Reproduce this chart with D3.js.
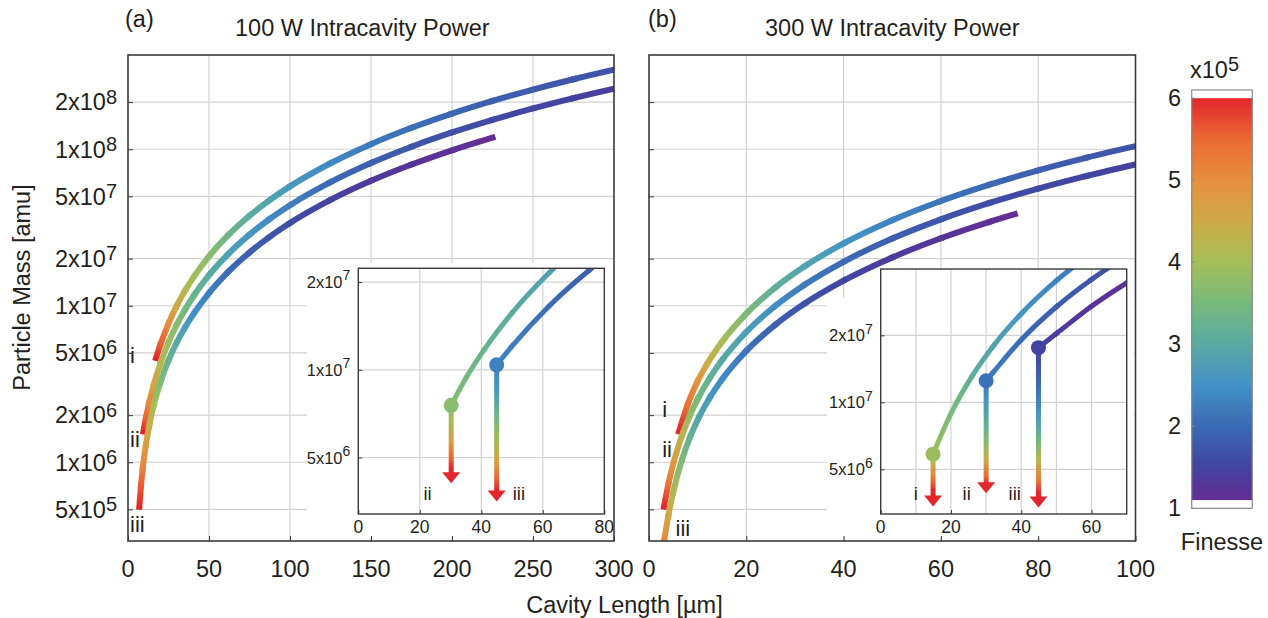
<!DOCTYPE html>
<html>
<head>
<meta charset="utf-8">
<script src="https://cdn.jsdelivr.net/npm/d3@7"></script>
<style>
  body { margin: 0; background: #fff; }
  svg { font-family: "Liberation Sans", Arial, Helvetica, sans-serif; }
</style>
</head>
<body>
<svg id="chart" width="1268" height="618"></svg>
<script>
// ---- data: [cavity length (um), particle mass (amu), finesse (x1e5)] ----
// panel (a), 100 W
const a_i = [[17.3,4.63e6,6.0],[20,5.647e6,5.6],[25,7.696e6,5.0],[30,9.942e6,4.55],[35,1.2374e7,4.2],
  [41,1.552e7,3.95],[50,2.0686e7,3.7],[62,2.8355e7,3.35],[75,3.759e7,3.05],[87,4.694e7,2.85],[100,5.792e7,2.65],
  [125,8.138e7,2.4],[150,1.0779e8,2.2],[175,1.3703e8,2.05],[200,1.6895e8,1.95],[225,2.0346e8,1.87],
  [250,2.4054e8,1.8],[275,2.8009e8,1.73],[300,3.2201e8,1.68]];
const a_ii = [[9.5,1.57e6,6.0],[11,1.906e6,5.55],[13,2.381e6,5.1],[16,3.152e6,4.6],[20,4.278e6,4.2],
  [25,5.83e6,3.9],[30,7.532e6,3.68],[35,9.374e6,3.48],[41,1.1758e7,3.25],[50,1.5671e7,3.05],[62,2.1481e7,2.8],
  [75,2.848e7,2.6],[87,3.556e7,2.4],[100,4.388e7,2.25],[125,6.165e7,2.0],[150,8.166e7,1.85],[175,1.0381e8,1.75],
  [200,1.2799e8,1.65],[225,1.5414e8,1.58],[250,1.8223e8,1.52],[275,2.1219e8,1.47],[300,2.4395e8,1.42]];
const a_iii = [[7,5.2e5,6.0],[8,7.07e5,5.6],[9.1,9.15e5,5.2],[11,1.287e6,4.75],[13,1.696e6,4.4],[16,2.34e6,4.0],
  [20,3.234e6,3.6],[25,4.47e6,3.25],[30,5.8e6,2.98],[35,7.22e6,2.75],[41,9.045e6,2.5],[50,1.2055e7,2.25],
  [62,1.6524e7,2.03],[75,2.1908e7,1.86],[87,2.7354e7,1.74],[100,3.3754e7,1.63],[125,4.7423e7,1.47],
  [150,6.2815e7,1.35],[175,7.9854e7,1.25],[200,9.8454e7,1.17],[225,1.1857e8,1.1]];
// panel (b), 300 W
const b_i = [[6.17,1.57e6,6.0],[8,2.36e6,5.35],[10,3.3e6,4.9],[12,4.28e6,4.45],[15,5.878e6,4.05],
  [20,8.909e6,3.55],[26,1.3101e7,3.13],[32,1.7857e7,2.85],[40,2.5013e7,2.57],[50,3.5197e7,2.32],
  [60,4.669e7,2.14],[70,5.942e7,1.99],[80,7.335e7,1.87],[90,8.844e7,1.78],[100,1.0467e8,1.7]];
const b_ii = [[3.08,5.2e5,6.0],[4,7.308e5,5.3],[5,9.819e5,4.8],[6.85,1.5008e6,4.2],[8.5,2.0179e6,3.8],
  [10,2.5286e6,3.5],[12.5,3.4607e6,3.2],[15,4.4869e6,3.0],[20,6.8007e6,2.75],[26,1.0001e7,2.45],
  [32,1.3631e7,2.2],[40,1.9094e7,2.0],[50,2.6868e7,1.85],[60,3.5641e7,1.72],[70,4.536e7,1.63],
  [80,5.599e7,1.56],[90,6.751e7,1.5],[100,7.99e7,1.45]];
const b_iii = [[2.3,1.98e5,6.0],[3.1,3.121e5,5.1],[4,4.605e5,4.55],[5,6.498e5,4.1],[6.85,1.0547e6,3.55],
  [8.5,1.4628e6,3.2],[10.3,1.948e6,2.9],[12.5,2.591e6,2.65],[15,3.382e6,2.42],[20,5.147e6,2.12],
  [26,7.576e6,1.87],[32,1.0326e7,1.7],[40,1.4465e7,1.53],[50,2.0355e7,1.38],[60,2.7001e7,1.26],
  [70,3.4364e7,1.15],[75.2,3.846e7,1.1]];

// inset start points [L, M, F] and arrow colour along the drop [M, F]
const a_dot_ii = [30.2, 7.55e6, 3.7];
const a_dot_iii = [45, 1.04e7, 2.3];
const b_dot_i = [14.9, 5.85e6, 3.9];
const b_dot_ii = [30, 1.25e7, 2.1];
const b_dot_iii = [44.9, 1.76e7, 1.5];
const a_arrow_ii = [[7.55e6,3.7],[6.6e6,4.1],[5.6e6,4.8],[5.0e6,5.5],[4.6e6,6.0],[4.08e6,6.0]];
const a_arrow_iii = [[1.04e7,2.3],[8.7e6,2.6],[7.3e6,3.2],[5.9e6,3.9],[4.9e6,4.6],[4.3e6,5.4],[3.87e6,6.0],[3.53e6,6.0]];
const b_arrow_i = [[5.85e6,3.9],[5.3e6,4.4],[4.6e6,5.2],[4.0e6,6.0],[3.4e6,6.0]];
const b_arrow_ii = [[1.25e7,2.1],[1.1e7,2.4],[8.5e6,3.0],[6.8e6,3.6],[5.6e6,4.4],[4.7e6,5.4],[4.3e6,6.0],[3.9e6,6.0]];
const b_arrow_iii = [[1.76e7,1.5],[1.2e7,2.0],[9e6,2.6],[7e6,3.3],[5.5e6,4.2],[4.5e6,5.2],[3.9e6,6.0],[3.37e6,6.0]];

// curve labels [text, L, M]
const a_labels = [["i",1.3,4.33e6],["ii",1.3,1.26e6],["iii",1.3,3.6e5]];
const b_labels = [["i",2.7,1.95e6],["ii",2.7,1.08e6],["iii",5.45,3.38e5]];
const a_insetLabels = [["ii",21.2,3.58e6],["iii",50.2,3.58e6]];
const b_insetLabels = [["i",9.4,3.64e6],["ii",23.3,3.64e6],["iii",36.4,3.64e6]];

// ticks
const mainYTicks = [5e5,1e6,2e6,5e6,1e7,2e7,5e7,1e8,2e8];
const mainYDomain = [3.14e5, 4.0e8];
const a_xTicks = [0,50,100,150,200,250,300];
const b_xTicks = [0,20,40,60,80,100];
const insetYTicks = [5e6,1e7,2e7];
const a_insetXTicks = [0,20,40,60,80];
const b_insetXTicks = [0,20,40,60];
const b_insetXGrid = [10,20,30,40,50,60];
const finesseTicks = [1,2,3,4,5,6];
const finesseRange = [1.1, 6.0];

// colour map (finesse x1e5 -> colour)
const finesseStops = [1.0,1.25,1.5,2.0,2.5,3.0,3.5,4.0,4.5,5.0,5.5,6.0];
const finesseColors = ["#6c2b91","#583498","#4244a0","#3b6ab4","#4291c8","#58aaa3","#76ba7b",
  "#a5be58","#ceaa46","#e78f3c","#ea6934","#e2262b"];

// ---- drawing ----
const svg = d3.select("#chart");
const defs = svg.append("defs");
const textColor = "#231f20", gridColor = "#d2d2d2", frameColor = "#3a3a3a";
const FS = 23.5;
let gid = 0;

const color = d3.scaleLinear().domain(finesseStops).range(finesseColors).clamp(true);

// split a monotone curve into bezier pieces, each with its own gradient
function gradientCurve(g, data, x, y, width) {
  const pts = data.map(d => [x(d[0]), y(d[1]), d[2]]);
  const segs = [];
  let cur = null;
  const ctx = {
    moveTo(px, py) { cur = [px, py]; },
    lineTo(px, py) { segs.push({ p0: cur, c: null, p1: [px, py] }); cur = [px, py]; },
    bezierCurveTo(a, b, c, d, e, f) { segs.push({ p0: cur, c: [a, b, c, d], p1: [e, f] }); cur = [e, f]; },
    closePath() {}
  };
  d3.line().curve(d3.curveMonotoneX).context(ctx)(pts);
  segs.forEach((s, k) => {
    const id = "gr" + (gid++);
    const gr = defs.append("linearGradient").attr("id", id).attr("gradientUnits", "userSpaceOnUse")
      .attr("x1", s.p0[0]).attr("y1", s.p0[1]).attr("x2", s.p1[0]).attr("y2", s.p1[1]);
    gr.append("stop").attr("offset", 0).attr("stop-color", color(pts[k][2]));
    gr.append("stop").attr("offset", 1).attr("stop-color", color(pts[k + 1][2]));
    const p = d3.path();
    p.moveTo(s.p0[0], s.p0[1]);
    if (s.c) p.bezierCurveTo(s.c[0], s.c[1], s.c[2], s.c[3], s.p1[0], s.p1[1]);
    else p.lineTo(s.p1[0], s.p1[1]);
    g.append("path").attr("d", p.toString()).attr("fill", "none")
      .attr("stroke", `url(#${id})`).attr("stroke-width", width).attr("stroke-linecap", "square");
  });
}

function sciLabel(g, x, y, v, fs, sfs, rise) {
  const e = Math.floor(Math.log10(v) + 1e-9), m = Math.round(v / Math.pow(10, e));
  const t = g.append("text").attr("x", x).attr("y", y).attr("text-anchor", "end")
    .attr("font-size", fs).attr("fill", textColor);
  t.append("tspan").text(m + "x10");
  t.append("tspan").attr("dy", -rise).attr("font-size", sfs).text(e);
}

function clipRect(x0, y0, x1, y1) {
  const id = "clip" + (gid++);
  defs.append("clipPath").attr("id", id).append("rect")
    .attr("x", x0).attr("y", y0).attr("width", x1 - x0).attr("height", y1 - y0);
  return `url(#${id})`;
}

function drawInset(g, s) {
  const x = d3.scaleLinear().domain(s.xDomain).range([s.left, s.right]);
  const y = d3.scaleLog().domain(s.yDomain).range([s.bottom, s.top]);
  g.append("rect").attr("x", s.bg[0]).attr("y", s.bg[1]).attr("width", s.bg[2] - s.bg[0])
    .attr("height", s.bg[3] - s.bg[1]).attr("fill", "#fff");
  g.append("rect").attr("x", s.left).attr("y", s.top).attr("width", s.right - s.left)
    .attr("height", s.bottom - s.top).attr("fill", "#fff");
  g.append("g").selectAll("line").data(s.xGrid).join("line")
    .attr("x1", d => x(d)).attr("x2", d => x(d)).attr("y1", s.top).attr("y2", s.bottom)
    .attr("stroke", gridColor).attr("stroke-width", 1.2);
  g.append("g").selectAll("line").data(insetYTicks).join("line")
    .attr("x1", s.left).attr("x2", s.right).attr("y1", d => y(d)).attr("y2", d => y(d))
    .attr("stroke", gridColor).attr("stroke-width", 1.2);

  const cg = g.append("g").attr("clip-path", clipRect(s.left, s.top, s.right, s.bottom));
  s.curves.forEach(c => {
    const pts = [c.dot].concat(c.main.filter(d => d[0] > c.dot[0] + 0.5));
    gradientCurve(cg, pts, x, y, 5);
  });
  s.curves.forEach(c => {
    const xa = x(c.dot[0]);
    const y0 = y(c.arrow[0][0]), yTip = y(c.arrow[c.arrow.length - 1][0]);
    const id = "gr" + (gid++);
    const gr = defs.append("linearGradient").attr("id", id).attr("gradientUnits", "userSpaceOnUse")
      .attr("x1", xa).attr("x2", xa).attr("y1", y0).attr("y2", yTip);
    c.arrow.forEach(a => gr.append("stop").attr("offset", (y(a[0]) - y0) / (yTip - y0)).attr("stop-color", color(a[1])));
    g.append("line").attr("x1", xa).attr("x2", xa).attr("y1", y0).attr("y2", yTip - 10)
      .attr("stroke", `url(#${id})`).attr("stroke-width", 5);
    g.append("path").attr("d", `M${xa - 9},${yTip - 11}L${xa + 9},${yTip - 11}L${xa},${yTip}Z`)
      .attr("fill", color(6));
    g.append("circle").attr("cx", xa).attr("cy", y(c.dot[1])).attr("r", 7.5).attr("fill", color(c.dot[2]));
  });
  s.labels.forEach(l => g.append("text").attr("x", x(l[1])).attr("y", y(l[2])).attr("font-size", 18.5)
    .attr("fill", textColor).text(l[0]));

  g.append("g").attr("transform", `translate(${s.left},0)`)
    .call(d3.axisLeft(y).tickValues(insetYTicks).tickSize(-4).tickFormat(""))
    .call(a => a.select(".domain").remove()).selectAll("line").attr("stroke", frameColor);
  g.append("g").attr("transform", `translate(0,${s.bottom})`)
    .call(d3.axisBottom(x).tickValues(s.xTicks).tickSize(-4).tickFormat(""))
    .call(a => a.select(".domain").remove()).selectAll("line").attr("stroke", frameColor);
  g.append("rect").attr("x", s.left).attr("y", s.top).attr("width", s.right - s.left)
    .attr("height", s.bottom - s.top).attr("fill", "none").attr("stroke", frameColor).attr("stroke-width", 1.4);
  insetYTicks.forEach(v => sciLabel(g, s.left - 8, y(v) + 6, v, 16.5, 14, 7.6));
  g.append("g").selectAll("text").data(s.xTicks).join("text")
    .attr("x", d => x(d)).attr("y", s.bottom + 19).attr("text-anchor", "middle")
    .attr("font-size", 17.5).attr("fill", textColor).text(d => d);
}

function drawPanel(p) {
  const g = svg.append("g");
  const x = d3.scaleLinear().domain(p.xDomain).range([p.left, p.right]);
  const y = d3.scaleLog().domain(mainYDomain).range([p.bottom, p.top]);
  g.append("g").selectAll("line").data(p.xTicks.slice(1, -1)).join("line")
    .attr("x1", d => x(d)).attr("x2", d => x(d)).attr("y1", p.top).attr("y2", p.bottom)
    .attr("stroke", gridColor).attr("stroke-width", 1.2);
  g.append("g").selectAll("line").data(mainYTicks).join("line")
    .attr("x1", p.left).attr("x2", p.right).attr("y1", d => y(d)).attr("y2", d => y(d))
    .attr("stroke", gridColor).attr("stroke-width", 1.2);

  const cg = g.append("g").attr("clip-path", clipRect(p.left, p.top, p.right, p.bottom));
  p.curves.forEach(c => gradientCurve(cg, c, x, y, 6));
  p.labels.forEach(l => g.append("text").attr("x", x(l[1])).attr("y", y(l[2])).attr("font-size", 22)
    .attr("fill", textColor).text(l[0]));

  drawInset(g, p.inset);

  g.append("g").attr("transform", `translate(${p.left},0)`)
    .call(d3.axisLeft(y).tickValues(mainYTicks).tickSize(-5).tickFormat(""))
    .call(a => a.select(".domain").remove()).selectAll("line").attr("stroke", frameColor);
  g.append("g").attr("transform", `translate(0,${p.bottom})`)
    .call(d3.axisBottom(x).tickValues(p.xTicks).tickSize(-5).tickFormat(""))
    .call(a => a.select(".domain").remove()).selectAll("line").attr("stroke", frameColor);
  g.append("rect").attr("x", p.left).attr("y", p.top).attr("width", p.right - p.left)
    .attr("height", p.bottom - p.top).attr("fill", "none").attr("stroke", frameColor).attr("stroke-width", 1.6);

  if (p.yLabels) mainYTicks.forEach(v => sciLabel(g, p.left - 11, y(v) + 8.3, v, FS, 20, 6.7));
  g.append("g").selectAll("text").data(p.xTicks).join("text")
    .attr("x", d => x(d)).attr("y", p.bottom + 35.7).attr("text-anchor", "middle")
    .attr("font-size", FS).attr("fill", textColor).text(d => d);
  g.append("text").attr("x", p.tag[0]).attr("y", 27).attr("font-size", FS).attr("fill", textColor).text(p.tag[1]);
  g.append("text").attr("x", p.titleX).attr("y", 36).attr("font-size", FS).attr("fill", textColor).text(p.title);
}

drawPanel({
  left: 128, right: 614, top: 55, bottom: 541, xDomain: [0, 300], xTicks: a_xTicks,
  curves: [a_i, a_ii, a_iii], labels: a_labels, yLabels: true,
  tag: [125, "(a)"], title: "100 W Intracavity Power", titleX: 235,
  inset: {
    left: 358.3, right: 604.3, top: 268.3, bottom: 514, xDomain: [0, 80], yDomain: [3.2e6, 2.23e7],
    xTicks: a_insetXTicks, xGrid: [20, 40, 60], bg: [307, 263, 613, 537], labels: a_insetLabels,
    curves: [{ main: a_ii, dot: a_dot_ii, arrow: a_arrow_ii }, { main: a_iii, dot: a_dot_iii, arrow: a_arrow_iii }]
  }
});
drawPanel({
  left: 649, right: 1135.5, top: 55, bottom: 541, xDomain: [0, 100], xTicks: b_xTicks,
  curves: [b_i, b_ii, b_iii], labels: b_labels, yLabels: false,
  tag: [648, "(b)"], title: "300 W Intracavity Power", titleX: 765,
  inset: {
    left: 880.7, right: 1126.7, top: 269, bottom: 514, xDomain: [0, 70], yDomain: [3.15e6, 3.97e7],
    xTicks: b_insetXTicks, xGrid: b_insetXGrid, bg: [827, 298, 1134, 537], labels: b_insetLabels,
    curves: [{ main: b_i, dot: b_dot_i, arrow: b_arrow_i }, { main: b_ii, dot: b_dot_ii, arrow: b_arrow_ii },
             { main: b_iii, dot: b_dot_iii, arrow: b_arrow_iii }]
  }
});

// axis titles
svg.append("text").attr("transform", "translate(29.5,287.5) rotate(-90)").attr("text-anchor", "middle")
  .attr("font-size", FS).attr("fill", textColor).text("Particle Mass [amu]");
svg.append("text").attr("x", 624.5).attr("y", 613).attr("text-anchor", "middle")
  .attr("font-size", FS).attr("fill", textColor).text("Cavity Length [µm]");

// colour bar
const cb = d3.scaleLinear().domain([1, 6.1]).range([508.3, 90]);
const cbX = 1191.7, cbW = 60.6;
const cgr = defs.append("linearGradient").attr("id", "cbgrad").attr("gradientUnits", "userSpaceOnUse")
  .attr("x1", 0).attr("x2", 0).attr("y1", cb(finesseRange[0])).attr("y2", cb(finesseRange[1]));
finesseStops.filter(f => f >= finesseRange[0]).concat([finesseRange[0]]).sort((a, b) => a - b).forEach(f =>
  cgr.append("stop").attr("offset", (f - finesseRange[0]) / (finesseRange[1] - finesseRange[0])).attr("stop-color", color(f)));
svg.append("rect").attr("x", cbX).attr("y", cb(6.1)).attr("width", cbW).attr("height", cb(1) - cb(6.1))
  .attr("fill", "#fff");
svg.append("rect").attr("x", cbX).attr("y", cb(finesseRange[1])).attr("width", cbW)
  .attr("height", cb(finesseRange[0]) - cb(finesseRange[1])).attr("fill", "url(#cbgrad)");
svg.append("rect").attr("x", cbX).attr("y", cb(6.1)).attr("width", cbW).attr("height", cb(1) - cb(6.1))
  .attr("fill", "none").attr("stroke", "#8a8a8a").attr("stroke-width", 1.2);
svg.append("g").selectAll("line").data(finesseTicks).join("line")
  .attr("x1", cbX).attr("x2", cbX + 3).attr("y1", d => cb(d)).attr("y2", d => cb(d)).attr("stroke", "#8a8a8a");
svg.append("g").selectAll("text").data(finesseTicks).join("text")
  .attr("x", 1181).attr("y", d => cb(d) + 8).attr("text-anchor", "end")
  .attr("font-size", FS).attr("fill", textColor).text(d => d);
const xt = svg.append("text").attr("x", 1190).attr("y", 78.3).attr("font-size", FS).attr("fill", textColor);
xt.append("tspan").text("x10");
xt.append("tspan").attr("dy", -7.6).attr("font-size", 20).text("5");
svg.append("text").attr("x", 1222).attr("y", 550).attr("text-anchor", "middle")
  .attr("font-size", FS).attr("fill", textColor).text("Finesse");
</script>
</body>
</html>
